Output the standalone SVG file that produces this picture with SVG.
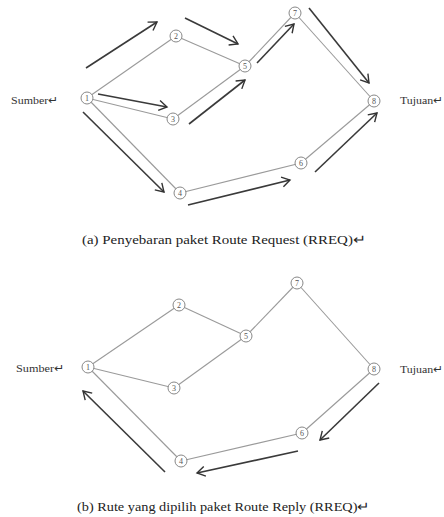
<svg xmlns="http://www.w3.org/2000/svg" width="444" height="517" viewBox="0 0 444 517">
<defs>
<marker id="ah" markerWidth="12" markerHeight="12" refX="9" refY="6" orient="auto" markerUnits="userSpaceOnUse">
<path d="M1,1 L9,6 L1,11" fill="none" stroke="#333" stroke-width="1.4"/>
</marker>
</defs>
<style>
.edge{stroke:#9a9a9a;stroke-width:1.1;fill:none}
.arr{stroke:#3a3a3a;stroke-width:1.6;fill:none;marker-end:url(#ah)}
.nc{fill:#fff;stroke:#888;stroke-width:1}
.nt{font-family:"Liberation Serif",serif;font-size:8px;fill:#555;text-anchor:middle}
.lbl{font-family:"Liberation Serif",serif;font-size:11px;fill:#333}
.cap{font-family:"Liberation Serif",serif;font-size:12.5px;fill:#222}
</style>
<rect width="444" height="517" fill="#fff"/>
<g id="connectors">
<line class="edge" x1="87" y1="98" x2="176" y2="36"/>
<line class="edge" x1="87" y1="98" x2="173" y2="119"/>
<line class="edge" x1="87" y1="98" x2="180" y2="193"/>
<line class="edge" x1="176" y1="36" x2="245" y2="66"/>
<line class="edge" x1="173" y1="119" x2="245" y2="66"/>
<line class="edge" x1="245" y1="66" x2="295" y2="13"/>
<line class="edge" x1="295" y1="13" x2="374" y2="101"/>
<line class="edge" x1="374" y1="101" x2="301" y2="163"/>
<line class="edge" x1="301" y1="163" x2="180" y2="193"/>
<line class="arr" x1="86" y1="68" x2="157" y2="22"/>
<line class="arr" x1="98" y1="94" x2="167" y2="107"/>
<line class="arr" x1="83" y1="112" x2="164" y2="192"/>
<line class="arr" x1="185" y1="18" x2="238" y2="44"/>
<line class="arr" x1="189" y1="124" x2="245" y2="80"/>
<line class="arr" x1="257" y1="63" x2="294" y2="24"/>
<line class="arr" x1="309" y1="8" x2="369" y2="83"/>
<line class="arr" x1="188" y1="205" x2="290" y2="180"/>
<line class="arr" x1="315" y1="172" x2="377" y2="113"/>

<line class="edge" x1="88" y1="367" x2="179" y2="305"/>
<line class="edge" x1="88" y1="367" x2="174" y2="388"/>
<line class="edge" x1="88" y1="367" x2="181" y2="461"/>
<line class="edge" x1="179" y1="305" x2="246" y2="336"/>
<line class="edge" x1="174" y1="388" x2="246" y2="336"/>
<line class="edge" x1="246" y1="336" x2="297" y2="283"/>
<line class="edge" x1="297" y1="283" x2="374" y2="369"/>
<line class="edge" x1="374" y1="369" x2="302" y2="433"/>
<line class="edge" x1="302" y1="433" x2="181" y2="461"/>
<line class="arr" x1="379" y1="383" x2="320" y2="440"/>
<line class="arr" x1="298" y1="451" x2="197" y2="473"/>
<line class="arr" x1="165" y1="472" x2="83" y2="391"/>
</g>
<g id="a-n1"><circle class="nc" cx="87" cy="98" r="6"/><text class="nt" x="87" y="101">1</text></g>
<g id="a-n2"><circle class="nc" cx="176" cy="36" r="6"/><text class="nt" x="176" y="39">2</text></g>
<g id="a-n3"><circle class="nc" cx="173" cy="119" r="6"/><text class="nt" x="173" y="122">3</text></g>
<g id="a-n4"><circle class="nc" cx="180" cy="193" r="6"/><text class="nt" x="180" y="196">4</text></g>
<g id="a-n5"><circle class="nc" cx="245" cy="66" r="6"/><text class="nt" x="245" y="69">5</text></g>
<g id="a-n7"><circle class="nc" cx="295" cy="13" r="6"/><text class="nt" x="295" y="16">7</text></g>
<g id="a-n8"><circle class="nc" cx="374" cy="101" r="6"/><text class="nt" x="374" y="104">8</text></g>
<g id="a-n6"><circle class="nc" cx="301" cy="163" r="6"/><text class="nt" x="301" y="166">6</text></g>
<g id="a-labels">
<text class="lbl" x="11" y="104" textLength="47" lengthAdjust="spacingAndGlyphs">Sumber↵</text>
<text class="lbl" x="400" y="104" textLength="43" lengthAdjust="spacingAndGlyphs">Tujuan↵</text>
<text class="cap" x="82" y="244" textLength="284" lengthAdjust="spacingAndGlyphs">(a) Penyebaran paket Route Request (RREQ)↵</text>
</g>
<g id="b-n1"><circle class="nc" cx="88" cy="367" r="6"/><text class="nt" x="88" y="370">1</text></g>
<g id="b-n2"><circle class="nc" cx="179" cy="305" r="6"/><text class="nt" x="179" y="308">2</text></g>
<g id="b-n3"><circle class="nc" cx="174" cy="388" r="6"/><text class="nt" x="174" y="391">3</text></g>
<g id="b-n4"><circle class="nc" cx="181" cy="461" r="6"/><text class="nt" x="181" y="464">4</text></g>
<g id="b-n5"><circle class="nc" cx="246" cy="336" r="6"/><text class="nt" x="246" y="339">5</text></g>
<g id="b-n7"><circle class="nc" cx="297" cy="283" r="6"/><text class="nt" x="297" y="286">7</text></g>
<g id="b-n8"><circle class="nc" cx="374" cy="369" r="6"/><text class="nt" x="374" y="372">8</text></g>
<g id="b-n6"><circle class="nc" cx="302" cy="433" r="6"/><text class="nt" x="302" y="436">6</text></g>
<g id="b-labels">
<text class="lbl" x="16" y="372" textLength="48" lengthAdjust="spacingAndGlyphs">Sumber↵</text>
<text class="lbl" x="400" y="373" textLength="43" lengthAdjust="spacingAndGlyphs">Tujuan↵</text>
<text class="cap" x="77" y="511" textLength="293" lengthAdjust="spacingAndGlyphs">(b) Rute yang dipilih paket Route Reply (RREQ)↵</text>
</g>
</svg>
